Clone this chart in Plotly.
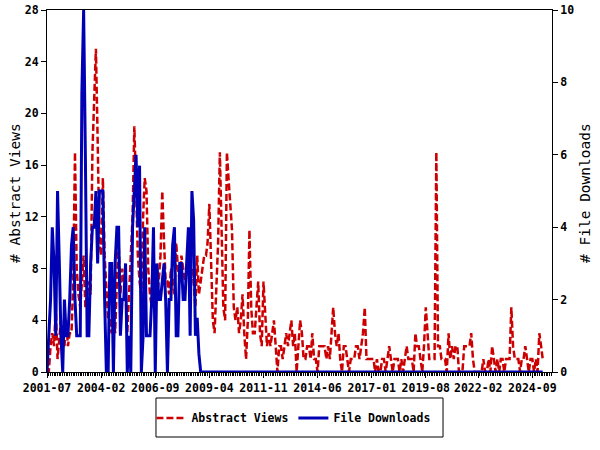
import plotly.graph_objects as go
import pandas as pd

start_month = "2001-07-01"

abstract_views = [
    1, 0, 2, 3, 2, 5, 1, 3, 4, 3, 2, 4,
    2, 3, 3, 7, 17, 8, 6, 5, 7, 9, 5, 6,
    7, 6, 17, 21, 25, 18, 10, 9, 15, 9, 6, 4,
    4, 3, 5, 3, 7, 10, 6, 8, 7, 6, 3,
    6, 8, 12, 19, 14, 9, 7, 6, 12, 15, 14, 8,
    6, 5, 7, 5, 6, 7, 9, 14, 10, 7, 7, 6,
    8, 7, 6, 10, 8, 7, 9, 8, 7, 8, 9, 6,
    8, 7, 5, 9, 6, 7, 8, 9, 9, 10, 13, 9,
    4, 3, 6, 10, 17, 11, 5, 4, 17, 15, 13, 11,
    5, 4, 5, 3, 4, 6, 3, 1, 4, 11, 5, 3,
    3, 5, 7, 3, 2, 7, 4, 2, 3, 2, 3,
    4, 2, 0, 2, 2, 1, 2, 3, 2, 3, 4, 2,
    3, 0, 2, 4, 3, 1, 1, 2, 2, 1, 3, 1,
    1, 0, 2, 2, 2, 2, 1, 2, 1, 3, 5, 3,
    2, 3, 1, 0, 2, 2, 1, 0, 1, 1, 1, 2,
    2, 1, 2, 3, 5, 1, 1, 1, 1, 1, 0,
    1, 0, 0, 1, 1, 0, 1, 2, 1, 0, 1, 1,
    1, 0, 1, 0, 1, 2, 1, 1, 1, 0, 3, 2,
    2, 1, 0, 2, 5, 3, 1, 1, 1, 1, 17, 2,
    2, 1, 1, 1, 0, 3, 1, 2, 1, 2, 2, 0,
    0, 0, 2, 2, 2, 2, 3, 1, 0, 0, 0, 0,
    0, 1, 0, 0, 1, 0, 2, 1, 0, 1, 0,
    1, 1, 0, 1, 1, 1, 5, 2, 1, 1, 1, 0,
    1, 1, 2, 1, 0, 1, 1, 0, 1, 0, 3, 2, 1,
]

downloads_early = [
    0, 1, 2, 4, 3, 1, 5, 3, 1, 0, 2, 1,
    1, 2, 3.5, 4, 2, 1, 1, 1, 7.7, 10, 6, 1,
    1, 3, 4, 4, 5, 3, 5, 5, 5, 2, 0, 0,
    3, 3, 0, 3, 4, 4, 1, 2, 2, 3, 0,
    1, 0, 4, 5, 6, 4, 5.7, 0, 1, 4, 1, 1,
    1, 2, 4, 0, 3, 2, 2, 2.5, 3, 2, 0, 2,
    2, 3.5, 4, 1, 1, 3, 3, 2, 2, 3, 4, 1,
    5, 4.2, 1, 1.5, 0.5,
]
file_downloads = downloads_early + [0] * (len(abstract_views) - len(downloads_early))

tick_labels = ["2001-07", "2004-02", "2006-09", "2009-04", "2011-11",
               "2014-06", "2017-01", "2019-08", "2022-02", "2024-09"]

months = pd.date_range(start_month, periods=len(abstract_views), freq="MS")
tick_vals = pd.to_datetime([t + "-01" for t in tick_labels])
minor_vals = [m for m in pd.date_range(start_month, "2025-08-01", freq="MS") if m not in set(tick_vals)]

FONT = "DejaVu Sans Mono"
tickfont = dict(family=FONT, size=11.5, color="black", weight="bold")

fig = go.Figure()
fig.add_trace(go.Scatter(
    x=months, y=abstract_views, name="Abstract Views", mode="lines",
    line=dict(color="#cc0000", width=2.5, dash="7px,3px"), yaxis="y"))
fig.add_trace(go.Scatter(
    x=months, y=file_downloads, name="File Downloads", mode="lines",
    line=dict(color="#0000b4", width=3), yaxis="y2"))

xrange = ["2001-07-01", "2025-08-10"]

fig.update_layout(
    width=600, height=450,
    margin=dict(l=47, r=48, t=10, b=78, autoexpand=False),
    paper_bgcolor="white", plot_bgcolor="white",
    font=dict(family=FONT, size=11.5, color="black"),
    showlegend=True,
    legend=dict(orientation="h", x=0.488, xanchor="center", y=-0.127, yanchor="middle",
                bgcolor="rgba(0,0,0,0)", borderwidth=0,
                font=dict(family=FONT, size=11.5, color="black", weight="bold")),
    xaxis=dict(range=xrange, tickmode="array", tickvals=tick_vals, ticktext=tick_labels,
               ticks="outside", ticklen=5, tickcolor="black", tickwidth=1,
               showline=True, linecolor="black", linewidth=1, mirror=True,
               showgrid=False, zeroline=False, tickfont=tickfont, automargin=False,
               ticklabeloverflow="allow",
               minor=dict(tickmode="array", tickvals=minor_vals,
                          ticks="outside", ticklen=3, tickcolor="black", showgrid=False)),
    yaxis=dict(range=[0, 28], tick0=0, dtick=4, ticks="outside", ticklen=5,
               tickcolor="black", showline=True, linecolor="black", linewidth=1,
               showgrid=False, zeroline=False, tickfont=tickfont, automargin=False,
               ticklabeloverflow="allow"),
    yaxis2=dict(range=[0, 10], tick0=0, dtick=2, overlaying="y", side="right",
                ticks="outside", ticklen=5, tickcolor="black", showline=True,
                linecolor="black", linewidth=1, showgrid=False, zeroline=False,
                tickfont=tickfont, automargin=False, ticklabeloverflow="allow"),
    annotations=[
        dict(text="# Abstract Views", textangle=-90, xref="paper", yref="paper",
             x=-0.0634, y=0.4945, xanchor="center", yanchor="middle", showarrow=False,
             font=dict(family=FONT, size=14.5, color="black")),
        dict(text="# File Downloads", textangle=-90, xref="paper", yref="paper",
             x=1.0653, y=0.4945, xanchor="center", yanchor="middle", showarrow=False,
             font=dict(family=FONT, size=14.5, color="black")),
    ],
    shapes=[
        dict(type="rect", xref="paper", yref="paper", x0=0.2158, x1=0.7842,
             y0=-0.0718, y1=-0.1796, line=dict(color="black", width=1),
             fillcolor="rgba(0,0,0,0)"),
    ],
)

fig.write_html("out.html", config={"displayModeBar": False},
               post_script="document.body.style.margin='0';")
